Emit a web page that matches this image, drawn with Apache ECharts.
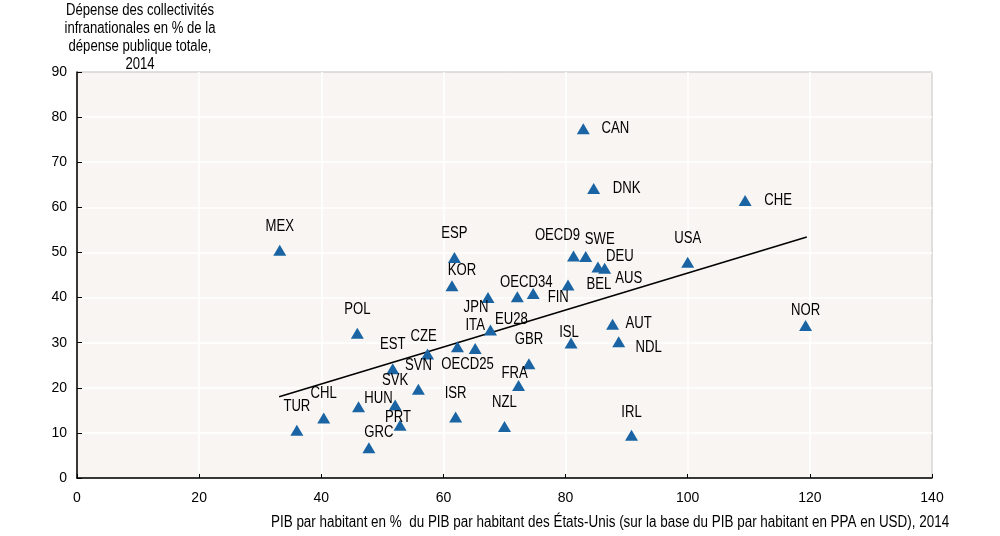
<!DOCTYPE html>
<html>
<head>
<meta charset="utf-8">
<script src="https://cdn.jsdelivr.net/npm/echarts@6/dist/echarts.min.js"></script>
<style>
html,body{margin:0;padding:0;background:#fff;}
#c{width:1000px;height:536px;}
</style>
</head>
<body>
<div id="c"></div>
<script>
// ---- Data ----
const countries = ["MEX","ESP","KOR","POL","EST","CZE","SVN","SVK","HUN","PRT","GRC","TUR","CHL","ISR","NZL","FRA","GBR","ISL","OECD25","ITA","EU28","JPN","OECD34","FIN","BEL","OECD9","SWE","DEU","AUS","USA","CAN","DNK","CHE","AUT","NDL","IRL","NOR"];
const gdpPct = [33.2,61.8,61.4,45.9,51.7,57.4,55.9,52.1,46.1,52.9,47.8,36.0,40.4,62.0,70.0,72.3,74.0,80.9,62.3,65.2,67.7,67.3,72.1,74.7,80.4,81.3,83.3,85.3,86.4,100.0,82.9,84.6,109.4,87.7,88.7,90.8,119.3];
const subSpend = [50.5,48.9,42.6,32.1,24.2,27.5,19.7,16.2,15.8,11.7,6.7,10.6,13.3,13.5,11.4,20.5,25.3,29.9,29.1,28.7,32.8,40.0,40.2,40.9,42.8,49.2,49.1,46.8,46.5,47.8,77.4,64.2,61.5,34.1,30.2,9.5,33.8];
const trendX = [33.1, 119.5];
const trendY = [18.0, 53.4];
const xTicks = [0,20,40,60,80,100,120,140];
const yTicks = [0,10,20,30,40,50,60,70,80,90];
const yTitle = "Dépense des collectivités\ninfranationales en % de la\ndépense publique totale,\n2014";
const xTitle = "PIB par habitant en %  du PIB par habitant des États-Unis (sur la base du PIB par habitant en PPA en USD), 2014";

// ---- Label placement (style, px offsets from marker centre) ----
const labelOffset = {
  MEX:[0,-24], ESP:[0,-24], KOR:[10,-15], POL:[0,-24], EST:[0,-24], CZE:[-4,-17],
  SVN:[0,-24], SVK:[0,-24], HUN:[20,-8], PRT:[-2,-8], GRC:[10,-15], TUR:[0,-24],
  CHL:[0,-24], ISR:[0,-24], NZL:[0,-24], FRA:[-4,-12], GBR:[0,-24], ISL:[-2,-11],
  OECD25:[10,18], ITA:[0,-23], EU28:[21,-10], JPN:[-12,10], OECD34:[9,-14],
  FIN:[25,4], BEL:[31,0], OECD9:[-16,-20], SWE:[14,-17], DEU:[22,-10], AUS:[24,10],
  USA:[0,-24], CAN:[32,0], DNK:[33,0], CHE:[33,0], AUT:[26,-1], NDL:[30,6],
  IRL:[0,-23], NOR:[0,-15]
};

const FONT = "'Liberation Sans',Arial,sans-serif";
const NARROW = 0.82;

const chart = echarts.init(document.getElementById('c'), null, {renderer:'canvas'});
const pointData = countries.map((c,i)=>({name:c, value:[gdpPct[i], subSpend[i]]}));
const trendData = trendX.map((x,i)=>[x, trendY[i]]);

chart.setOption({
  animation:false,
  backgroundColor:'#ffffff',
  grid:{left:77, right:68, top:72, bottom:58, show:true, backgroundColor:'#f8f5f2', borderColor:'#000', borderWidth:1},
  graphic:[
    {type:'text', x:140, y:1, scaleX:NARROW, style:{text:yTitle, textAlign:'center', font:'16px '+FONT, lineHeight:18.3, fill:'#000'}},
    {type:'text', x:271, y:515, scaleX:0.84, style:{text:xTitle, textAlign:'left', font:'16px '+FONT, fill:'#000'}}
  ],
  xAxis:{
    type:'value', min:xTicks[0], max:xTicks[xTicks.length-1], interval:20,
    axisLine:{show:true, lineStyle:{color:'#000', width:1.5}},
    axisTick:{show:true, inside:true, length:4, lineStyle:{color:'#000'}},
    axisLabel:{color:'#000', fontFamily:FONT, fontSize:14, margin:13},
    splitLine:{show:true, lineStyle:{color:'#ffffff', width:1.5}}
  },
  yAxis:{
    type:'value', min:yTicks[0], max:yTicks[yTicks.length-1], interval:10,
    axisLine:{show:true, lineStyle:{color:'#000', width:1.5}},
    axisTick:{show:true, inside:true, length:5, lineStyle:{color:'#000'}},
    axisLabel:{color:'#000', fontFamily:FONT, fontSize:14, margin:10},
    splitLine:{show:true, lineStyle:{color:'#ffffff', width:1.5}}
  },
  series:[
    {
      type:'line', data:trendData, symbol:'none', silent:true,
      lineStyle:{color:'#000', width:1.6}, z:3
    },
    {
      type:'scatter', data:pointData, symbol:'triangle', symbolSize:[13,11],
      itemStyle:{color:'#1a64a3', opacity:1}, z:4
    },
    {
      type:'custom', data:pointData, z:5, silent:true,
      renderItem:function(params, api){
        const p = api.coord([api.value(0), api.value(1)]);
        const name = countries[params.dataIndex];
        const off = labelOffset[name] || [0,-24];
        return {
          type:'text', x:p[0]+off[0], y:p[1]+off[1], scaleX:NARROW,
          style:{text:name, textAlign:'center', textVerticalAlign:'middle', font:'16px '+FONT, fill:'#000'}
        };
      }
    }
  ]
});
</script>
</body>
</html>
